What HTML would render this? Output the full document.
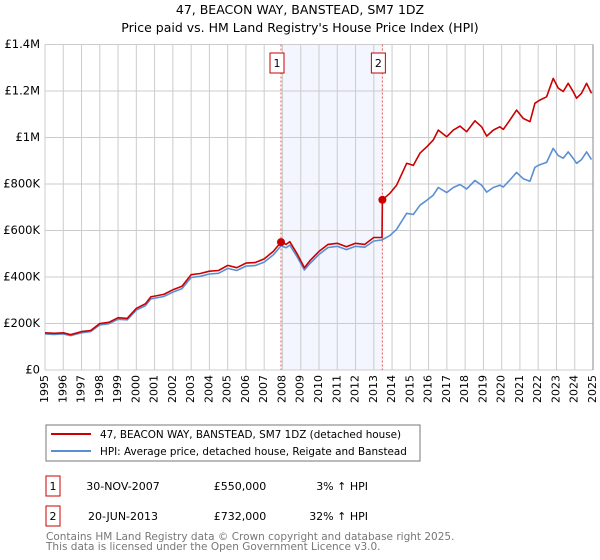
<!DOCTYPE html>
<html><head><meta charset="utf-8"><style>
body{margin:0;background:#fff;font-family:"DejaVu Sans","Liberation Sans",sans-serif;}
svg{display:block}
</style></head><body>
<svg width="600" height="560" viewBox="0 0 600 560" id="chart" font-family="DejaVu Sans, Liberation Sans, sans-serif">
<text x="300" y="14" text-anchor="middle" font-size="12.5" fill="#000">47, BEACON WAY, BANSTEAD, SM7 1DZ</text>
<text x="300" y="32" text-anchor="middle" font-size="12.5" fill="#000">Price paid vs. HM Land Registry's House Price Index (HPI)</text>
<g id="plot"></g>
<g>
<rect x="46" y="425" width="374" height="36" fill="#fff" stroke="#777"/>
<line x1="51" y1="434" x2="91" y2="434" stroke="#cc0000" stroke-width="2"/>
<text x="100" y="438" font-size="10.4">47, BEACON WAY, BANSTEAD, SM7 1DZ (detached house)</text>
<line x1="51" y1="451" x2="91" y2="451" stroke="#5b8fd4" stroke-width="2"/>
<text x="100" y="455" font-size="10.4">HPI: Average price, detached house, Reigate and Banstead</text>
</g>
<g font-size="11">
<rect x="46" y="476" width="14" height="20" fill="#fff" stroke="#cc0000"/>
<text x="53" y="487" text-anchor="middle" dominant-baseline="middle">1</text>
<text x="123" y="487" text-anchor="middle" dominant-baseline="middle">30-NOV-2007</text>
<text x="240" y="487" text-anchor="middle" dominant-baseline="middle">£550,000</text>
<text x="368" y="487" text-anchor="end" dominant-baseline="middle">3% ↑ HPI</text>
<rect x="46" y="506" width="14" height="20" fill="#fff" stroke="#cc0000"/>
<text x="53" y="517" text-anchor="middle" dominant-baseline="middle">2</text>
<text x="123" y="517" text-anchor="middle" dominant-baseline="middle">20-JUN-2013</text>
<text x="240" y="517" text-anchor="middle" dominant-baseline="middle">£732,000</text>
<text x="368" y="517" text-anchor="end" dominant-baseline="middle">32% ↑ HPI</text>
</g>
<text x="46" y="540" font-size="10.5" fill="#777">Contains HM Land Registry data © Crown copyright and database right 2025.</text>
<text x="46" y="550" font-size="10.5" fill="#777">This data is licensed under the Open Government Licence v3.0.</text>
</svg>
<script>
const yearTicks=[1995,1996,1997,1998,1999,2000,2001,2002,2003,2004,2005,2006,2007,2008,2009,2010,2011,2012,2013,2014,2015,2016,2017,2018,2019,2020,2021,2022,2023,2024,2025];
const valueTicks=[0,200000,400000,600000,800000,1000000,1200000,1400000];
const valueTickLabels=["£0","£200K","£400K","£600K","£800K","£1M","£1.2M","£1.4M"];
const propYears=[1995,1995.5,1996,1996.4,1997,1997.5,1998,1998.5,1999,1999.5,2000,2000.5,2000.8,2001,2001.5,2002,2002.5,2003,2003.5,2004,2004.5,2005,2005.5,2006,2006.5,2007,2007.5,2007.92,2008.2,2008.4,2008.8,2009.2,2009.5,2010,2010.5,2011,2011.5,2012,2012.5,2013,2013.45,2013.47,2013.88,2014.25,2014.8,2015.16,2015.53,2015.9,2016.25,2016.53,2016.99,2017.35,2017.72,2018.08,2018.54,2018.9,2019.18,2019.54,2019.9,2020.09,2020.45,2020.82,2021.18,2021.55,2021.82,2022.09,2022.46,2022.82,2023.1,2023.37,2023.64,2023.91,2024.1,2024.37,2024.65,2024.92];
const propValues=[160,158,160,152,165,170,200,205,225,222,265,285,315,318,325,345,360,410,415,425,428,450,440,460,462,478,510,550,540,552,500,440,470,510,540,545,530,545,540,570,570,732,760,795,889,880,933,960,989,1032,1003,1032,1049,1025,1072,1046,1006,1032,1046,1035,1075,1118,1082,1068,1147,1161,1175,1254,1212,1198,1233,1198,1169,1190,1233,1190];
const hpiYears=[1995,1995.5,1996,1996.4,1997,1997.5,1998,1998.5,1999,1999.5,2000,2000.5,2000.8,2001,2001.5,2002,2002.5,2003,2003.5,2004,2004.5,2005,2005.5,2006,2006.5,2007,2007.5,2007.92,2008.2,2008.4,2008.8,2009.2,2009.5,2010,2010.5,2011,2011.5,2012,2012.5,2013,2013.43,2013.88,2014.25,2014.8,2015.16,2015.53,2015.9,2016.25,2016.53,2016.99,2017.35,2017.72,2018.08,2018.54,2018.9,2019.18,2019.54,2019.9,2020.09,2020.45,2020.82,2021.18,2021.55,2021.82,2022.09,2022.46,2022.82,2023.1,2023.37,2023.64,2023.91,2024.1,2024.37,2024.65,2024.92];
const hpiValues=[155,153,155,148,160,165,194,199,218,216,257,277,306,309,316,335,350,398,403,413,416,437,428,447,449,464,495,534,526,537,487,430,458,497,527,532,518,532,528,555,559,578,605,674,669,709,730,752,785,763,785,798,779,815,795,765,785,795,787,817,850,823,812,872,883,893,953,922,911,938,911,889,905,938,905];
const saleYears=[2007.92,2013.47];
const saleValues=[550,732];
const saleLabels=["1","2"];

const NS="http://www.w3.org/2000/svg";
const X0=45,X1=593,Y0=370,Y1=44.5;
const xs=y=>X0+(y-1995)/(2025-1995)*(X1-X0);
const ys=v=>Y0-v/1400000*(Y0-Y1);
const plot=document.getElementById('plot');
function mk(tag,attrs,parent){const e=document.createElementNS(NS,tag);for(const k in attrs)e.setAttribute(k,attrs[k]);(parent||plot).appendChild(e);return e;}

const shade=mk('rect',{x:xs(saleYears[0]),y:Y1,width:xs(saleYears[1])-xs(saleYears[0]),height:Y0-Y1,fill:'#f3f6fe'});



yearTicks.forEach(t=>{
  const g=mk('line',{x1:xs(t),x2:xs(t),y1:Y1,y2:Y0,stroke:'#cccccc','stroke-width':1});
  
  
  const tx=mk('text',{x:0,y:0,'font-size':11,'text-anchor':'end','dominant-baseline':'middle',transform:`translate(${xs(t)},375) rotate(-90)`});
  tx.textContent=t;
  
  
});
valueTicks.forEach((v,i)=>{
  const g=mk('line',{x1:X0,x2:X1,y1:ys(v),y2:ys(v),stroke:'#cccccc','stroke-width':1});
  
  
  const tx=mk('text',{x:40,y:ys(v),'font-size':11.5,'text-anchor':'end','dominant-baseline':'middle'});
  tx.textContent=valueTickLabels[i];
  
  
});
const edge=mk('line',{x1:X1,x2:X1,y1:Y1,y2:Y0,stroke:'#888','stroke-width':1});



saleYears.forEach((y,i)=>{
  const l=mk('line',{x1:xs(y),x2:xs(y),y1:Y1,y2:Y0,stroke:'#ee5555','stroke-width':1,'stroke-dasharray':'2,2'});
  
  
});

function path(xsArr,vals,color,name){
  const d=xsArr.map((y,i)=>(i?'L':'M')+xs(y).toFixed(1)+','+ys(vals[i]*1000).toFixed(1)).join(' ');
  const p=mk('path',{d:d,fill:'none',stroke:color,'stroke-width':1.6,'stroke-linejoin':'round'});
  
  
}
path(hpiYears,hpiValues,'#5b8fd4','hpi-line');
path(propYears,propValues,'#cc0000','property-price-line');

saleYears.forEach((y,i)=>{
  const c=mk('circle',{cx:xs(y),cy:ys(saleValues[i]*1000),r:4,fill:'#cc0000'});
  
  
  const b=mk('rect',{x:xs(y)-11,y:53,width:14,height:20,fill:'#fff',stroke:'#cc0000'});
  
  
  const t=mk('text',{x:xs(y)-4,y:64,'font-size':11,'text-anchor':'middle','dominant-baseline':'middle'});
  t.textContent=saleLabels[i];
  
  
});
</script>
</body></html>
